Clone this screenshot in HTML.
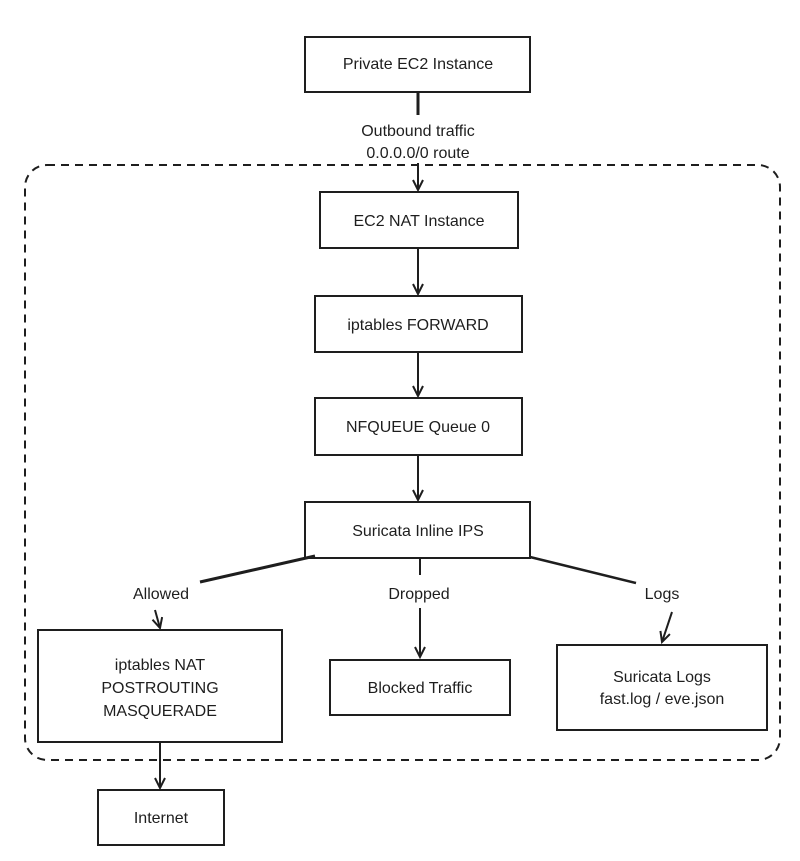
<!DOCTYPE html>
<html><head><style>
html,body{margin:0;padding:0;background:#fff;}
svg text{font-family:"Liberation Sans",sans-serif;font-size:16px;fill:#1e1e1e;text-anchor:middle;}
</style></head><body>
<svg width="800" height="856" viewBox="0 0 800 856" xmlns="http://www.w3.org/2000/svg">
<defs><marker id="a" markerWidth="14" markerHeight="14" refX="12" refY="6" orient="auto" markerUnits="userSpaceOnUse">
<path d="M2,1 L12,6 L2,11" fill="none" stroke="#1e1e1e" stroke-width="2"/></marker></defs>
<g fill="none" stroke="#1e1e1e" stroke-width="2">
<rect x="25" y="165" width="755" height="595" rx="22" stroke-dasharray="8,6"/>
<rect x="305" y="37" width="225" height="55"/>
<rect x="320" y="192" width="198" height="56"/>
<rect x="315" y="296" width="207" height="56"/>
<rect x="315" y="398" width="207" height="57"/>
<rect x="305" y="502" width="225" height="56"/>
<rect x="38" y="630" width="244" height="112"/>
<rect x="330" y="660" width="180" height="55"/>
<rect x="557" y="645" width="210" height="85"/>
<rect x="98" y="790" width="126" height="55"/>
<line x1="418" y1="92" x2="418" y2="115" stroke-width="3"/>
<line x1="418" y1="163" x2="418" y2="190" marker-end="url(#a)"/>
<line x1="418" y1="248" x2="418" y2="294" marker-end="url(#a)"/>
<line x1="418" y1="352" x2="418" y2="396" marker-end="url(#a)"/>
<line x1="418" y1="455" x2="418" y2="500" marker-end="url(#a)"/>
<line x1="315" y1="556" x2="200" y2="582" stroke-width="3"/>
<line x1="155" y1="610" x2="160" y2="628" marker-end="url(#a)"/>
<line x1="420" y1="558" x2="420" y2="575"/>
<line x1="420" y1="608" x2="420" y2="657" marker-end="url(#a)"/>
<line x1="530" y1="557" x2="636" y2="583" stroke-width="2.5"/>
<line x1="672" y1="612" x2="662" y2="642" marker-end="url(#a)"/>
<line x1="160" y1="742" x2="160" y2="788" marker-end="url(#a)"/>
</g>
<text x="418" y="69">Private EC2 Instance</text>
<text x="418" y="136">Outbound traffic</text>
<text x="418" y="158">0.0.0.0/0 route</text>
<text x="419" y="226">EC2 NAT Instance</text>
<text x="418" y="330">iptables FORWARD</text>
<text x="418" y="432">NFQUEUE Queue 0</text>
<text x="418" y="536">Suricata Inline IPS</text>
<text x="161" y="599">Allowed</text>
<text x="419" y="599">Dropped</text>
<text x="662" y="599">Logs</text>
<text x="160" y="670">iptables NAT</text>
<text x="160" y="693">POSTROUTING</text>
<text x="160" y="716">MASQUERADE</text>
<text x="420" y="693">Blocked Traffic</text>
<text x="662" y="682">Suricata Logs</text>
<text x="662" y="704">fast.log / eve.json</text>
<text x="161" y="823">Internet</text>
</svg>
</body></html>
